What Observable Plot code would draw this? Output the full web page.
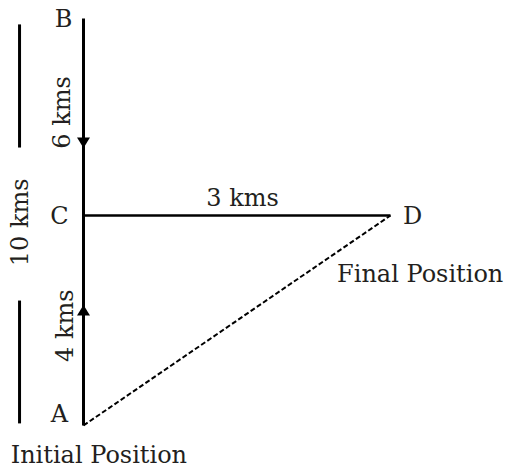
<!DOCTYPE html>
<html>
<head>
<meta charset="utf-8">
<script src="https://cdn.jsdelivr.net/npm/d3@7"></script>
<script src="https://cdn.jsdelivr.net/npm/@observablehq/plot@0.6"></script>
<style>
  html, body { margin: 0; padding: 0; background: #fff; }
</style>
</head>
<body>
<div id="chart"></div>
<script>
// Points of the path (km units of the diagram)
const pointNames = ["A", "B", "C", "D"];
const pointX = [0, 0, 0, 3];
const pointY = [0, 10, 4, 4];

// Segments walked (solid) and displacement (dashed)
const walkFrom = ["B", "C"];
const walkTo = ["A", "D"];
const dispFrom = ["A"];
const dispTo = ["D"];

// Direction arrows on AB
const arrowY = [6.22, 2.19];
const arrowDir = ["down", "up"];

// Labels (diagram units)
const labelText = ["B", "C", "A", "D", "3 kms", "Final Position", "Initial Position"];
const labelX = [-0.195, -0.235, -0.235, 3.215, 1.554, 3.29, 0.15];
const labelY = [9.97, 3.98, 0.21, 3.98, 4.52, 2.88, -0.56];

const rotText = ["6 kms", "4 kms", "10 kms"];
const rotX = [-0.205, -0.176, -0.616];
const rotY = [7.14, 1.9, 3.87];

// 10 km scale bars on the left
const barX = [-0.625, -0.625];
const barY1 = [9.82, 2.38];
const barY2 = [6.07, 0.04];

const pt = Object.fromEntries(pointNames.map((n, i) => [n, {x: pointX[i], y: pointY[i]}]));
const walks = walkFrom.map((f, i) => ({x1: pt[f].x, y1: pt[f].y, x2: pt[walkTo[i]].x, y2: pt[walkTo[i]].y}));
const disps = dispFrom.map((f, i) => ({x1: pt[f].x, y1: pt[f].y, x2: pt[dispTo[i]].x, y2: pt[dispTo[i]].y}));
const arrows = arrowY.map((y, i) => ({x: 0, y, dir: arrowDir[i]}));
const labels = labelText.map((t, i) => ({t, x: labelX[i], y: labelY[i]}));
const rots = rotText.map((t, i) => ({t, x: rotX[i], y: rotY[i]}));
const bars = barX.map((x, i) => ({x, y1: barY1[i], y2: barY2[i]}));

const downTri = {draw(c) { c.moveTo(-6.5, -5); c.lineTo(6.5, -5); c.lineTo(0, 5.5); c.closePath(); }};
const upTri = {draw(c) { c.moveTo(-6.5, 5); c.lineTo(6.5, 5); c.lineTo(0, -5.5); c.closePath(); }};

const ink = "#231f20";
const font = "DejaVu Serif";

const chart = Plot.plot({
  width: 510,
  height: 469,
  margin: 0,
  x: {type: "linear", domain: [0, 3], range: [83, 390], axis: null},
  y: {type: "linear", domain: [0, 4, 10], range: [425, 215, 18], axis: null},
  marks: [
    Plot.link(bars, {x1: "x", x2: "x", y1: "y1", y2: "y2", stroke: "#000", strokeWidth: 3}),
    Plot.link(disps, {x1: "x1", y1: "y1", x2: "x2", y2: "y2", stroke: "#000", strokeWidth: 2, strokeDasharray: "5,2.5"}),
    Plot.link(walks.slice(1), {x1: "x1", y1: "y1", x2: "x2", y2: "y2", stroke: "#000", strokeWidth: 2.5}),
    Plot.link(walks.slice(0, 1), {x1: "x1", y1: "y1", x2: "x2", y2: "y2", stroke: "#000", strokeWidth: 3}),
    Plot.dot(arrows.filter(d => d.dir === "down"), {x: "x", y: "y", symbol: () => downTri, fill: "#000", stroke: "none", r: 5}),
    Plot.dot(arrows.filter(d => d.dir === "up"), {x: "x", y: "y", symbol: () => upTri, fill: "#000", stroke: "none", r: 5}),
    Plot.text(labels, {x: "x", y: "y", text: "t", fontFamily: font, fontSize: 24, fill: ink, textAnchor: "middle", lineAnchor: "middle"}),
    Plot.text(rots, {x: "x", y: "y", text: "t", rotate: -90, fontFamily: font, fontSize: 24, fill: ink, textAnchor: "middle", lineAnchor: "middle"})
  ]
});
document.getElementById("chart").appendChild(chart);
</script>
</body>
</html>
